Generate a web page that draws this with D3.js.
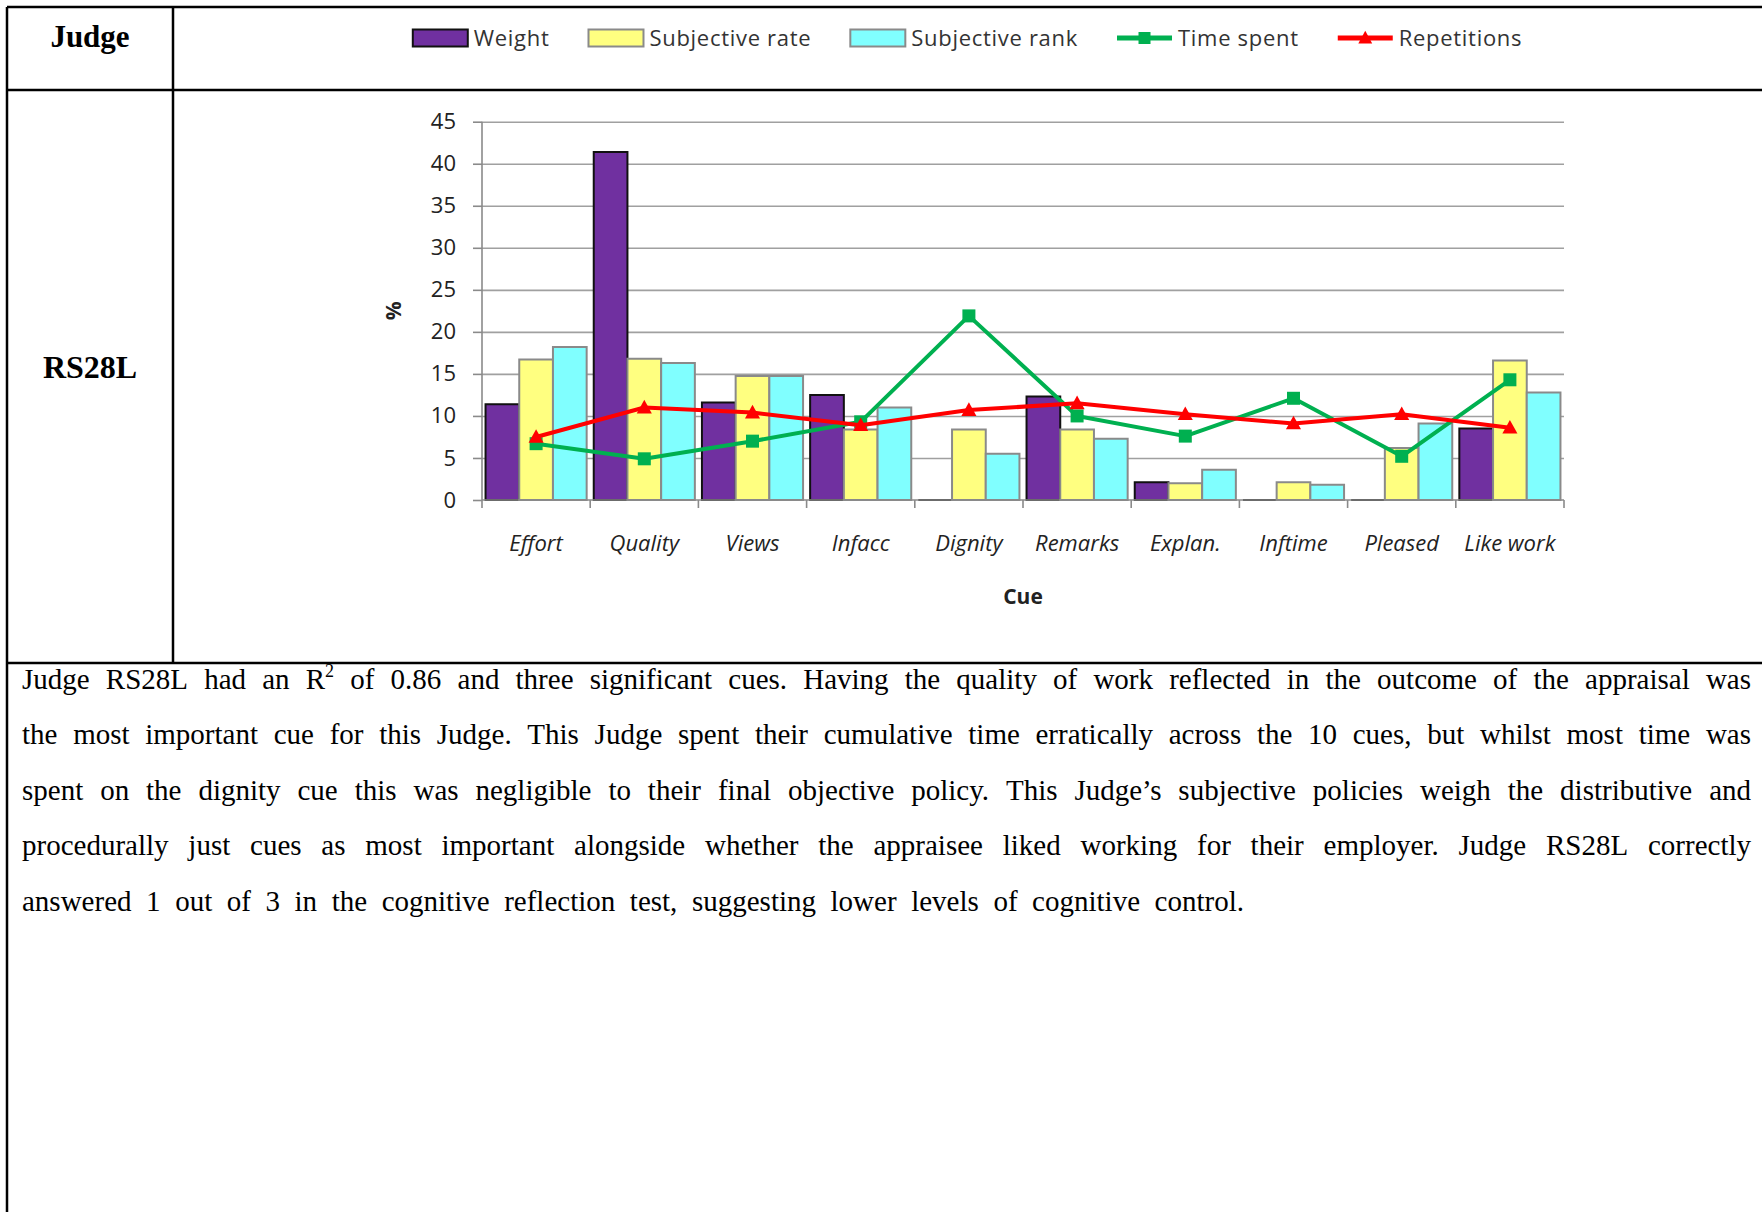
<!DOCTYPE html>
<html><head><meta charset="utf-8">
<script src="https://cdn.jsdelivr.net/npm/d3@7"></script>
<style>html,body{margin:0;padding:0;background:#fff;overflow:hidden;} svg{display:block;}</style>
</head><body>
<svg id="c" width="1762" height="1212"></svg>
<script>
// ---------- data ----------
const cues = ["Effort","Quality","Views","Infacc","Dignity","Remarks","Explan.","Inftime","Pleased","Like work"];
const weight = [11.4, 41.4, 11.6, 12.5, 0, 12.3, 2.1, 0, 0, 8.5];
const subjectiveRate = [16.7, 16.8, 14.75, 8.4, 8.4, 8.4, 2.0, 2.1, 6.2, 16.6];
const subjectiveRank = [18.2, 16.3, 14.75, 11.0, 5.5, 7.3, 3.6, 1.8, 9.1, 12.8];
const timeSpent = [6.7, 4.9, 7.0, 9.3, 21.9, 10.0, 7.6, 12.1, 5.2, 14.3];
const repetitions = [7.5, 11.0, 10.4, 8.9, 10.7, 11.5, 10.2, 9.1, 10.2, 8.6];
const barSeries = ["Weight","Subjective rate","Subjective rank"];
const lineSeries = ["Time spent","Repetitions"];
const yTicks = [0,5,10,15,20,25,30,35,40,45];
const judgeId = "RS28L";
const headerLabel = "Judge";
const xTitle = "Cue";
const yTitle = "%";
const paragraphLines = [
  "Judge RS28L had an R^2 of 0.86 and three significant cues. Having the quality of work reflected in the outcome of the appraisal was",
  "the most important cue for this Judge. This Judge spent their cumulative time erratically across the 10 cues, but whilst most time was",
  "spent on the dignity cue this was negligible to their final objective policy. This Judge\u2019s subjective policies weigh the distributive and",
  "procedurally just cues as most important alongside whether the appraisee liked working for their employer. Judge RS28L correctly",
  "answered 1 out of 3 in the cognitive reflection test, suggesting lower levels of cognitive control."
];

// ---------- styles ----------
const barStyle = {
  "Weight": {fill:"#7030A0", stroke:"#111"},
  "Subjective rate": {fill:"#FFFF80", stroke:"#8a8a8a"},
  "Subjective rank": {fill:"#80FFFF", stroke:"#8a8a8a"}
};
const lineStyle = {
  "Time spent": {color:"#00B050", marker:"square"},
  "Repetitions": {color:"#FF0000", marker:"triangle"}
};
const chartFont = "'Open Sans', 'Noto Sans', sans-serif";
const serif = "'Liberation Serif', 'Times New Roman', serif";

const svg = d3.select("#c");

// ---------- table ----------
const T = {left:7, top:7, right:1762, bottom:1212, colX:173, headY:90, rowY:663};
const tbl = svg.append("g").attr("stroke","#000").attr("stroke-width",2.5);
[[T.left,T.top,T.right,T.top],[T.left,T.top,T.left,T.bottom],[T.colX,T.top,T.colX,T.rowY],
 [T.left,T.headY,T.right,T.headY],[T.left,T.rowY,T.right,T.rowY]].forEach(l=>{
  tbl.append("line").attr("x1",l[0]).attr("y1",l[1]).attr("x2",l[2]).attr("y2",l[3]);
});
svg.append("text").attr("x",(T.left+T.colX)/2).attr("y",47).attr("text-anchor","middle")
  .attr("font-family",serif).attr("font-weight","bold").attr("font-size",31).text(headerLabel);
svg.append("text").attr("x",(T.left+T.colX)/2).attr("y",378).attr("text-anchor","middle")
  .attr("font-family",serif).attr("font-weight","bold").attr("font-size",32).text(judgeId);

// ---------- chart ----------
const plot = {x0:482, x1:1564, y0:121.7, y1:500};
const x = d3.scaleBand().domain(cues).range([plot.x0, plot.x1]).paddingInner(0).paddingOuter(0);
const xs = d3.scaleBand().domain(barSeries).range([0, x.bandwidth()]).paddingInner(0).paddingOuter(0.105);
const y = d3.scaleLinear().domain([0,45]).range([plot.y1, plot.y0]);
const g = svg.append("g");

// gridlines
g.append("g").attr("transform",`translate(${plot.x0},0)`)
  .call(d3.axisLeft(y).tickValues(yTicks.filter(v=>v>0)).tickSize(-(plot.x1-plot.x0)).tickFormat(""))
  .call(s=>s.select(".domain").remove())
  .call(s=>s.selectAll("line").attr("stroke","#a0a0a0").attr("stroke-width",1.6));

// y axis
const ya = g.append("g").attr("transform",`translate(${plot.x0},0)`)
  .call(d3.axisLeft(y).tickValues(yTicks).tickSize(9).tickPadding(17));
ya.select(".domain").attr("stroke","#8a8a8a").attr("stroke-width",1.6).attr("d",`M0,${plot.y0}V${plot.y1}`);
ya.selectAll(".tick line").attr("stroke","#8a8a8a").attr("stroke-width",1.6);
ya.selectAll("text").attr("font-family",chartFont).attr("font-size",22).attr("fill","#222");

// bars
const seriesData = {"Weight":weight,"Subjective rate":subjectiveRate,"Subjective rank":subjectiveRank};
barSeries.forEach(sn=>{
  const st = barStyle[sn];
  g.append("g").selectAll("path").data(cues.map((c,i)=>({c, v:seriesData[sn][i]}))).join("path")
    .attr("d",d=>{
      const bx = x(d.c)+xs(sn), bw = xs.bandwidth();
      return `M${bx},${y(0)}V${y(d.v)}H${bx+bw}V${y(0)}Z`;
    })
    .attr("fill",st.fill).attr("stroke",st.stroke).attr("stroke-width",2);
});

// x axis
const xa = g.append("g").attr("transform",`translate(0,${plot.y1})`);
xa.append("line").attr("x1",plot.x0).attr("x2",plot.x1).attr("stroke","#8a8a8a").attr("stroke-width",1.6);
const bounds = cues.map(c=>x(c)).concat([x.range()[1]]);
xa.selectAll("line.tk").data(bounds).join("line").attr("class","tk")
  .attr("x1",d=>d).attr("x2",d=>d).attr("y1",0).attr("y2",8).attr("stroke","#8a8a8a").attr("stroke-width",1.6);
xa.selectAll("text").data(cues).join("text")
  .attr("x",d=>x(d)+x.bandwidth()/2).attr("y",51).attr("text-anchor","middle")
  .attr("font-family",chartFont).attr("font-style","italic").attr("font-size",22).attr("fill","#222").text(d=>d);

// lines
const lineData = {"Time spent":timeSpent,"Repetitions":repetitions};
function marker(sel, type, color, size){
  if(type==="square"){
    sel.append("rect").attr("x",-size/2).attr("y",-size/2).attr("width",size).attr("height",size).attr("fill",color);
  } else {
    const h=size;
    sel.append("path").attr("d",`M0,${-h*0.6}L${h*0.58},${h*0.45}L${-h*0.58},${h*0.45}Z`).attr("fill",color);
  }
}
lineSeries.forEach(sn=>{
  const st = lineStyle[sn];
  const pts = cues.map((c,i)=>[x(c)+x.bandwidth()/2, y(lineData[sn][i])]);
  g.append("path").attr("d",d3.line()(pts)).attr("fill","none").attr("stroke",st.color).attr("stroke-width",4).attr("stroke-linejoin","round");
  pts.forEach(p=>{
    const m = g.append("g").attr("transform",`translate(${p[0]},${p[1]})`);
    marker(m, st.marker, st.color, 13);
  });
});

// axis titles
g.append("text").attr("x",(plot.x0+plot.x1)/2).attr("y",604).attr("text-anchor","middle")
  .attr("font-family",chartFont).attr("font-weight","bold").attr("font-size",21).attr("fill","#222").text(xTitle);
g.append("text").attr("transform",`translate(401,${(plot.y0+plot.y1)/2}) rotate(-90)`).attr("text-anchor","middle")
  .attr("font-family",chartFont).attr("font-weight","bold").attr("font-size",21).attr("fill","#222").text(yTitle);

// legend
const legendItems = barSeries.map(s=>({name:s,kind:"bar"})).concat(lineSeries.map(s=>({name:s,kind:"line"})));
const lg = svg.append("g");
const symW = 55, symGap = 6, itemGap = 39, legY = 38;
let widths = [];
legendItems.forEach(it=>{
  const t = lg.append("text").attr("font-family",chartFont).attr("font-size",22).attr("letter-spacing",0.7).attr("fill","#333").text(it.name);
  it.t = t; widths.push(t.node().getComputedTextLength());
});
const total = d3.sum(widths) + legendItems.length*(symW+symGap) + (legendItems.length-1)*itemGap;
let cx = (T.colX + T.right)/2 - total/2;
legendItems.forEach((it,i)=>{
  if(it.kind==="bar"){
    const st = barStyle[it.name];
    lg.append("rect").attr("x",cx).attr("y",legY-8.5).attr("width",symW).attr("height",17)
      .attr("fill",st.fill).attr("stroke",st.stroke).attr("stroke-width",2);
  } else {
    const st = lineStyle[it.name];
    lg.append("line").attr("x1",cx).attr("x2",cx+symW).attr("y1",legY).attr("y2",legY).attr("stroke",st.color).attr("stroke-width",5);
    const m = lg.append("g").attr("transform",`translate(${cx+symW/2},${legY})`);
    marker(m, st.marker, st.color, 12);
  }
  it.t.attr("x",cx+symW+symGap).attr("y",legY+8);
  cx += symW+symGap+widths[i]+itemGap;
});

// ---------- paragraph ----------
const para = svg.append("g").attr("font-family",serif).attr("font-size",29).attr("fill","#000");
const pLeft = 22, pRight = 1751, base0 = 689, lh = 55.4;
paragraphLines.forEach((line,li)=>{
  const words = line.split(" ");
  const nodes = words.map(w=>{
    const t = para.append("text").attr("y",base0+li*lh);
    if(w.includes("^")){
      const [a,b] = w.split("^");
      t.append("tspan").text(a);
      t.append("tspan").attr("dy",-12).attr("font-size",18).text(b);
    } else t.text(w);
    return t;
  });
  const ws = nodes.map(n=>n.node().getComputedTextLength());
  const last = li===paragraphLines.length-1;
  const target = last ? 1244 - pLeft : pRight - pLeft;
  const gap = (target - d3.sum(ws))/(words.length-1);
  let px = pLeft;
  nodes.forEach((n,i)=>{ n.attr("x",px); px += ws[i]+gap; });
});
</script>
</body></html>
